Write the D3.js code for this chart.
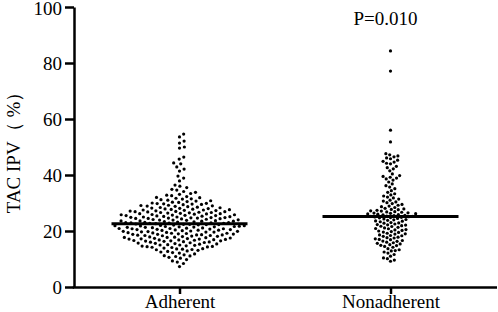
<!DOCTYPE html>
<html>
<head>
<meta charset="utf-8">
<script src="https://cdn.jsdelivr.net/npm/d3@7"></script>
<style>
	body { margin: 0; background: #fff; }
	svg { display: block; }
	svg text { font-family: "Liberation Serif", "DejaVu Serif", serif; }
</style>
</head>
<body>
<svg id="chart"></svg>
<script>
const categories = ["Adherent", "Nonadherent"];

const adherent = [
	54.6, 53.6, 52.1, 51.4, 50.0, 49.6, 46.4, 45.7, 44.3, 44.0, 42.9, 42.1, 41.4, 39.6, 38.9, 37.9, 36.4, 36.0,
	35.5, 34.9, 34.6, 34.1,
	33.8, 33.4, 33.1, 32.8, 32.6, 32.3, 32.0,
	31.9, 31.7, 31.5, 31.4, 31.2, 31.0, 30.8, 30.7, 30.5, 30.3, 30.2, 30.0,
	29.9, 29.8, 29.6, 29.5, 29.4, 29.2, 29.1, 29.0, 28.9, 28.8, 28.7, 28.5, 28.4, 28.3, 28.2, 28.1, 28.0, 29.7,
	27.9, 27.8, 27.7, 27.6, 27.5, 27.4, 27.3, 27.2, 27.1, 27.0, 26.9, 26.8, 26.7, 26.6, 26.6, 26.5, 26.4, 26.3, 26.2, 26.2, 26.1, 26.0, 27.5, 26.9,
	25.9, 25.8, 25.8, 25.6, 25.5, 25.5, 25.3, 25.2, 25.1, 25.0, 25.0, 24.9, 24.8, 24.8, 24.7, 24.6, 24.5, 24.5, 24.4, 24.3, 24.2, 24.1, 24.0, 25.4, 24.6, 25.7,
	23.9, 23.9, 23.8, 23.7, 23.6, 23.5, 23.5, 23.4, 23.3, 23.2, 23.1, 23.0, 23.0, 22.9, 22.8, 22.7, 22.7, 22.6, 22.5, 22.4, 22.3, 22.3, 22.2, 22.1, 22.0, 23.6, 22.9, 22.4,
	21.9, 21.8, 21.7, 21.6, 21.5, 21.5, 21.4, 21.3, 21.2, 21.1, 21.0, 20.9, 20.9, 20.8, 20.7, 20.6, 20.5, 20.4, 20.3, 20.3, 20.2, 20.1, 20.0, 21.6, 21.3, 20.8, 20.5, 21.9,
	19.9, 19.8, 19.7, 19.6, 19.5, 19.4, 19.3, 19.2, 19.1, 19.0, 18.9, 18.8, 18.7, 18.6, 18.5, 18.4, 18.3, 18.2, 18.1, 18.0, 19.6, 19.2, 18.8, 18.4, 19.9, 18.6,
	17.9, 17.8, 17.7, 17.6, 17.5, 17.4, 17.3, 17.2, 17.1, 17.0, 16.9, 16.8, 16.7, 16.6, 16.5, 16.4, 16.3, 16.2, 16.1, 16.0, 17.7, 17.1, 16.5, 16.8,
	15.9, 15.8, 15.7, 15.5, 15.4, 15.3, 15.1, 15.0, 14.9, 14.7, 14.6, 14.5, 14.3, 14.2, 14.1, 15.6, 15.0, 14.4,
	13.9, 13.7, 13.6, 13.4, 13.3, 13.1, 12.9, 12.7, 12.5, 12.3, 12.1, 13.5,
	11.8, 11.5, 11.2, 10.9, 10.6, 10.3, 11.1,
	9.8, 9.3, 8.9, 8.4,
	7.3
];

const nonadherent = [
	84.3, 77.1, 56.0, 51.8,
	47.6, 47.2, 46.8, 46.5, 46.1,
	45.8, 45.3, 44.9, 44.6, 44.2, 44.0,
	43.1, 42.6, 42.2,
	41.5, 40.4,
	39.8, 39.5, 39.2, 38.9, 38.6, 38.2,
	37.5, 36.8, 36.2,
	35.7, 35.1, 34.4,
	33.8, 33.3, 32.9, 32.5, 32.1,
	31.8, 31.4, 31.0, 30.7, 30.4, 30.1,
	29.8, 29.5, 29.2, 28.9, 28.7, 28.4, 28.1,
	27.9, 27.6, 27.4, 27.1, 26.9, 26.7, 26.4, 26.2, 26.0,
	27.7, 27.2, 26.8, 26.5, 26.3, 26.1, 25.9, 25.8, 25.6, 25.5, 25.3, 25.2,
	25.2, 25.0, 24.9, 24.7, 24.5, 24.3, 24.1, 24.0, 25.1, 24.8,
	23.8, 23.5, 23.3, 23.0, 22.8, 22.5, 22.3, 22.1, 23.6, 22.9, 22.2,
	21.9, 21.6, 21.3, 21.1, 20.8, 20.5, 20.2, 20.0, 21.7, 20.9, 20.4,
	19.8, 19.5, 19.2, 18.9, 18.6, 18.3, 18.1, 19.6, 19.0, 18.4,
	17.8, 17.5, 17.2, 16.9, 16.6, 16.3, 16.0, 17.6, 17.0, 16.4,
	15.8, 15.4, 15.1, 14.8, 14.5, 14.2, 15.6, 14.9,
	13.7, 13.3, 12.9, 12.5, 12.1, 13.0,
	11.6, 11.0, 10.4, 10.1,
	9.6, 9.2
];

const groups = [adherent, nonadherent];
const yTicks = [0, 20, 40, 60, 80, 100];
const yTitle = "TAC IPV（ %）";
const pLabel = "P=0.010";

const width = 498;
const height = 312;
const margin = {top: 7, right: 2, bottom: 25, left: 74};
const serif = "'Liberation Serif', 'DejaVu Serif', serif";

const svg = d3.select("#chart")
.attr("width", width)
.attr("height", height);

const x = d3.scalePoint()
.domain(categories)
.range([margin.left, width - margin.right])
.padding(0.5);

const y = d3.scaleLinear()
.domain([0, 100])
.range([height - margin.bottom, margin.top]);

// simple beeswarm: each point takes the free spot closest to the centre
function dodge(values, cx, diam) {
	const placed = [];
	values.slice().sort((a, b) => a - b).forEach(v => {
		const py = y(v);
		const near = placed.filter(p => Math.abs(p.y - py) < diam);
		const cand = [0];
		near.forEach(p => {
			const dx = Math.sqrt(diam * diam - (p.y - py) ** 2);
			cand.push(p.dx + dx, p.dx - dx);
		});
		cand.sort((a, b) => Math.abs(a) - Math.abs(b));
		const pos = cand.find(c => near.every(p => (p.dx - c) ** 2 + (p.y - py) ** 2 >= diam * diam - 1e-6));
		placed.push({dx: pos, y: py, x: cx + pos});
	});
	return placed;
}

const dots = svg.append("g");
const lines = svg.append("g");
const spacing = [5.0, 4.0];

groups.forEach((vals, i) => {
	const cx = x(categories[i]);

	dots.selectAll(null)
	.data(dodge(vals, cx, spacing[i]))
	.join("circle")
	.attr("cx", d => d.x)
	.attr("cy", d => d.y)
	.attr("r", 1.6)
	.attr("fill", "#000");

	const med = d3.median(vals);
	lines.append("line")
	.attr("x1", cx - 68)
	.attr("x2", cx + 68)
	.attr("y1", y(med))
	.attr("y2", y(med))
	.attr("stroke", "#000")
	.attr("stroke-width", 3);
});

const yAxis = svg.append("g")
.attr("transform", `translate(${margin.left},0)`)
.call(d3.axisLeft(y).tickValues(yTicks).tickSize(9).tickSizeOuter(0).tickPadding(3));

const xAxis = svg.append("g")
.attr("transform", `translate(0,${height - margin.bottom})`)
.call(d3.axisBottom(x).tickSize(7).tickSizeOuter(0).tickPadding(1));

[yAxis, xAxis].forEach(g => {
	g.attr("font-family", serif).attr("font-size", 19);
	g.select(".domain").attr("stroke-width", 2.5);
	g.selectAll(".tick line").attr("stroke-width", 2.5);
	g.selectAll("text").attr("fill", "#000");
});
yAxis.select(".tick:last-of-type text").attr("dy", "0.4em");
xAxis.select(".domain").attr("d", `M${margin.left - 1.25},0.5H${width - margin.right + 1}`);

svg.append("text")
.attr("transform", `translate(20,${(y(0) + y(100)) / 2 + 1}) rotate(-90)`)
.attr("text-anchor", "middle")
.attr("font-family", serif)
.attr("font-size", 19)
.text(yTitle);

svg.append("text")
.attr("x", x("Nonadherent") - 5)
.attr("y", 25)
.attr("text-anchor", "middle")
.attr("font-family", serif)
.attr("font-size", 19)
.text(pLabel);
</script>
</body>
</html>
